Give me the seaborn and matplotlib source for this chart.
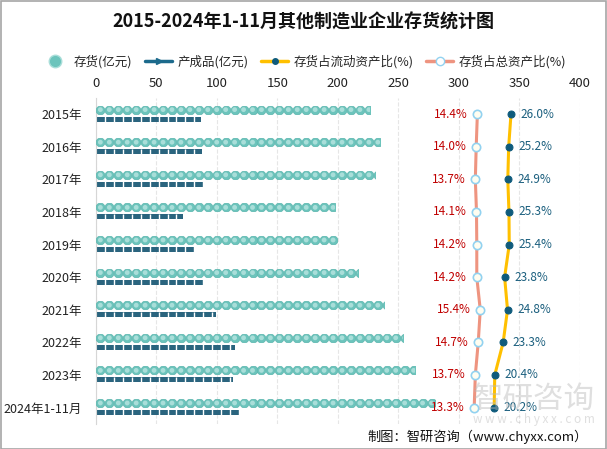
import numpy as np
import pandas as pd
import matplotlib
matplotlib.use('Agg')
import matplotlib.pyplot as plt
import seaborn as sns
from matplotlib.lines import Line2D
from matplotlib.patches import Rectangle

# data
years = ['2015年', '2016年', '2017年', '2018年', '2019年', '2020年', '2021年', '2022年', '2023年', '2024年1-11月']
inventory = [227, 235, 231, 198, 199, 217, 238, 254, 264, 280]          # 存货(亿元)
finished = [87, 88, 89, 72, 81, 89, 99, 115, 113, 119]                 # 产成品(亿元)
current_ratio = [26.0, 25.2, 24.9, 25.3, 25.4, 23.8, 24.8, 23.3, 20.4, 20.2]   # 存货占流动资产比(%)
total_ratio = [14.4, 14.0, 13.7, 14.1, 14.2, 14.2, 15.4, 14.7, 13.7, 13.3]     # 存货占总资产比(%)
xticks = [0, 50, 100, 150, 200, 250, 300, 350, 400]

df = pd.DataFrame({'year': years, 'inventory': inventory, 'finished': finished,
                   'current': current_ratio, 'total': total_ratio})
df['pos'] = np.arange(len(df))

sns.set_style('white')
plt.rcParams['font.family'] = ['Noto Sans CJK SC', 'DejaVu Sans']

teal = '#6CC4BC'
teal_light = '#A9DED9'
navy = '#1C6A8C'
yellow = '#FFC000'
salmon = '#EE9480'
dot_blue = '#0F5B7C'

fig = plt.figure(figsize=(6.07, 4.49), dpi=100)
ax = fig.add_axes([0.158, 0.056, 0.797, 0.726])

sns.barplot(data=df, x='inventory', y='year', orient='h', color=teal, ax=ax, width=0.24)
n = len(df)
sns.barplot(data=df, x='finished', y='year', orient='h', color=navy, ax=ax, width=0.15)

inv_bars = ax.patches[:n]
fin_bars = ax.patches[n:2 * n]
for p in inv_bars:
    p.set_y(p.get_y() - 0.14)
    p.set_facecolor('none')
    p.set_edgecolor('none')
for p in fin_bars:
    p.set_y(p.get_y() + 0.15)
    p.set_edgecolor('none')

# pictorial circles, clipped to each bar
step = 7.4
for p, v in zip(inv_bars, inventory):
    cx = np.arange(step / 2, v + step, step)
    cy = np.full(len(cx), p.get_y() + p.get_height() / 2)
    s1 = ax.scatter(cx, cy, s=40, color=teal, edgecolor='#5BB5AD', linewidth=0.5, zorder=3)
    s2 = ax.scatter(cx, cy, s=12, color=teal_light, edgecolor='none', zorder=4)
    s1.set_clip_path(p)
    s2.set_clip_path(p)
for p, v in zip(fin_bars, finished):
    cx = np.arange(step, v + step, step)
    cy = np.full(len(cx), p.get_y() + p.get_height() / 2)
    s3 = ax.scatter(cx, cy, s=14, marker='|', color='white', linewidth=1.0, zorder=4)
    s3.set_clip_path(p)

ax.set_xlim(0, 400)
ax.set_ylim(len(df) - 0.5, -0.5)
ax.set_xlabel('')
ax.set_ylabel('')
ax.grid(axis='x', color='#E6E6E6', linestyle='--', linewidth=0.8)
ax.set_axisbelow(True)
for side in ['top', 'right', 'bottom']:
    ax.spines[side].set_visible(False)
ax.spines['left'].set_color('#D6D6D6')

# ratio lines on a hidden second x axis
ax2 = ax.twiny()
sns.lineplot(data=df, x='total', y='pos', orient='y', sort=False, color=salmon, linewidth=2.2,
             marker='o', markersize=6, markerfacecolor='#FFFDF0', markeredgecolor='#92D2F0',
             markeredgewidth=1.2, ax=ax2, zorder=5)
sns.lineplot(data=df, x='current', y='pos', orient='y', sort=False, color=yellow, linewidth=2.2,
             marker='o', markersize=5, markerfacecolor=dot_blue, markeredgecolor=dot_blue, ax=ax2, zorder=5)
ax2.set_xlim(-117.2, 49.7)
ax2.set_ylim(len(df) - 0.5, -0.5)
ax2.axis('off')

# bar value axis on top (after twiny, which resets it)
ax.set_xticks(xticks)
ax.xaxis.tick_top()
ax.xaxis.set_label_position('top')
ax.tick_params(axis='x', length=0, labelsize=9.5, pad=6, labelcolor='#222222',
               labeltop=True, labelbottom=False)
ax.tick_params(axis='y', length=0, labelsize=9, pad=10, labelcolor='#222222')

for x, y in zip(df['total'], df['pos']):
    ax2.annotate(f'{x:.1f}%', (x, y), xytext=(-7, 0), textcoords='offset points',
                 ha='right', va='center', fontsize=8.5, color='#C00000')
for x, y in zip(df['current'], df['pos']):
    ax2.annotate(f'{x:.1f}%', (x, y), xytext=(7, 0), textcoords='offset points',
                 ha='left', va='center', fontsize=8.5, color='#1B5F7E')

fig.text(0.5, 0.95, '2015-2024年1-11月其他制造业企业存货统计图', ha='center', va='center',
         fontsize=13, fontweight='bold', color='#111111')

handles = [
    Line2D([], [], linestyle='none', marker='o', markersize=9, markerfacecolor=teal,
           markeredgecolor=teal_light),
    Line2D([], [], color=navy, linewidth=2.5, marker='>', markersize=4),
    Line2D([], [], color=yellow, linewidth=2.5, marker='o', markersize=4,
           markerfacecolor=dot_blue, markeredgecolor=dot_blue),
    Line2D([], [], color=salmon, linewidth=2.5, marker='o', markersize=6,
           markerfacecolor='white', markeredgecolor='#92D2F0'),
]
labels = ['存货(亿元)', '产成品(亿元)', '存货占流动资产比(%)', '存货占总资产比(%)']
fig.legend(handles, labels, loc='center', bbox_to_anchor=(0.5, 0.862), ncol=4, frameon=False,
           fontsize=9, handlelength=2.2, handletextpad=0.4, columnspacing=1.0)

# watermark and source
fig.text(0.88, 0.11, '智研咨询', ha='center', va='center', fontsize=22, color='#B8B8B8', alpha=0.45)
fig.text(0.88, 0.065, 'w w w . c h y x x . c o m', ha='center', va='center', fontsize=8.5,
         color='#B8B8B8', alpha=0.45)
fig.text(0.968, 0.028, '制图：智研咨询（www.chyxx.com）', ha='right', va='center', fontsize=9.5,
         color='#111111')

fig.patches.append(Rectangle((0.001, 0.001), 0.997, 0.997, transform=fig.transFigure,
                             fill=False, edgecolor='#A6A6A6', linewidth=1.2))

fig.savefig('out.png', dpi=100)
